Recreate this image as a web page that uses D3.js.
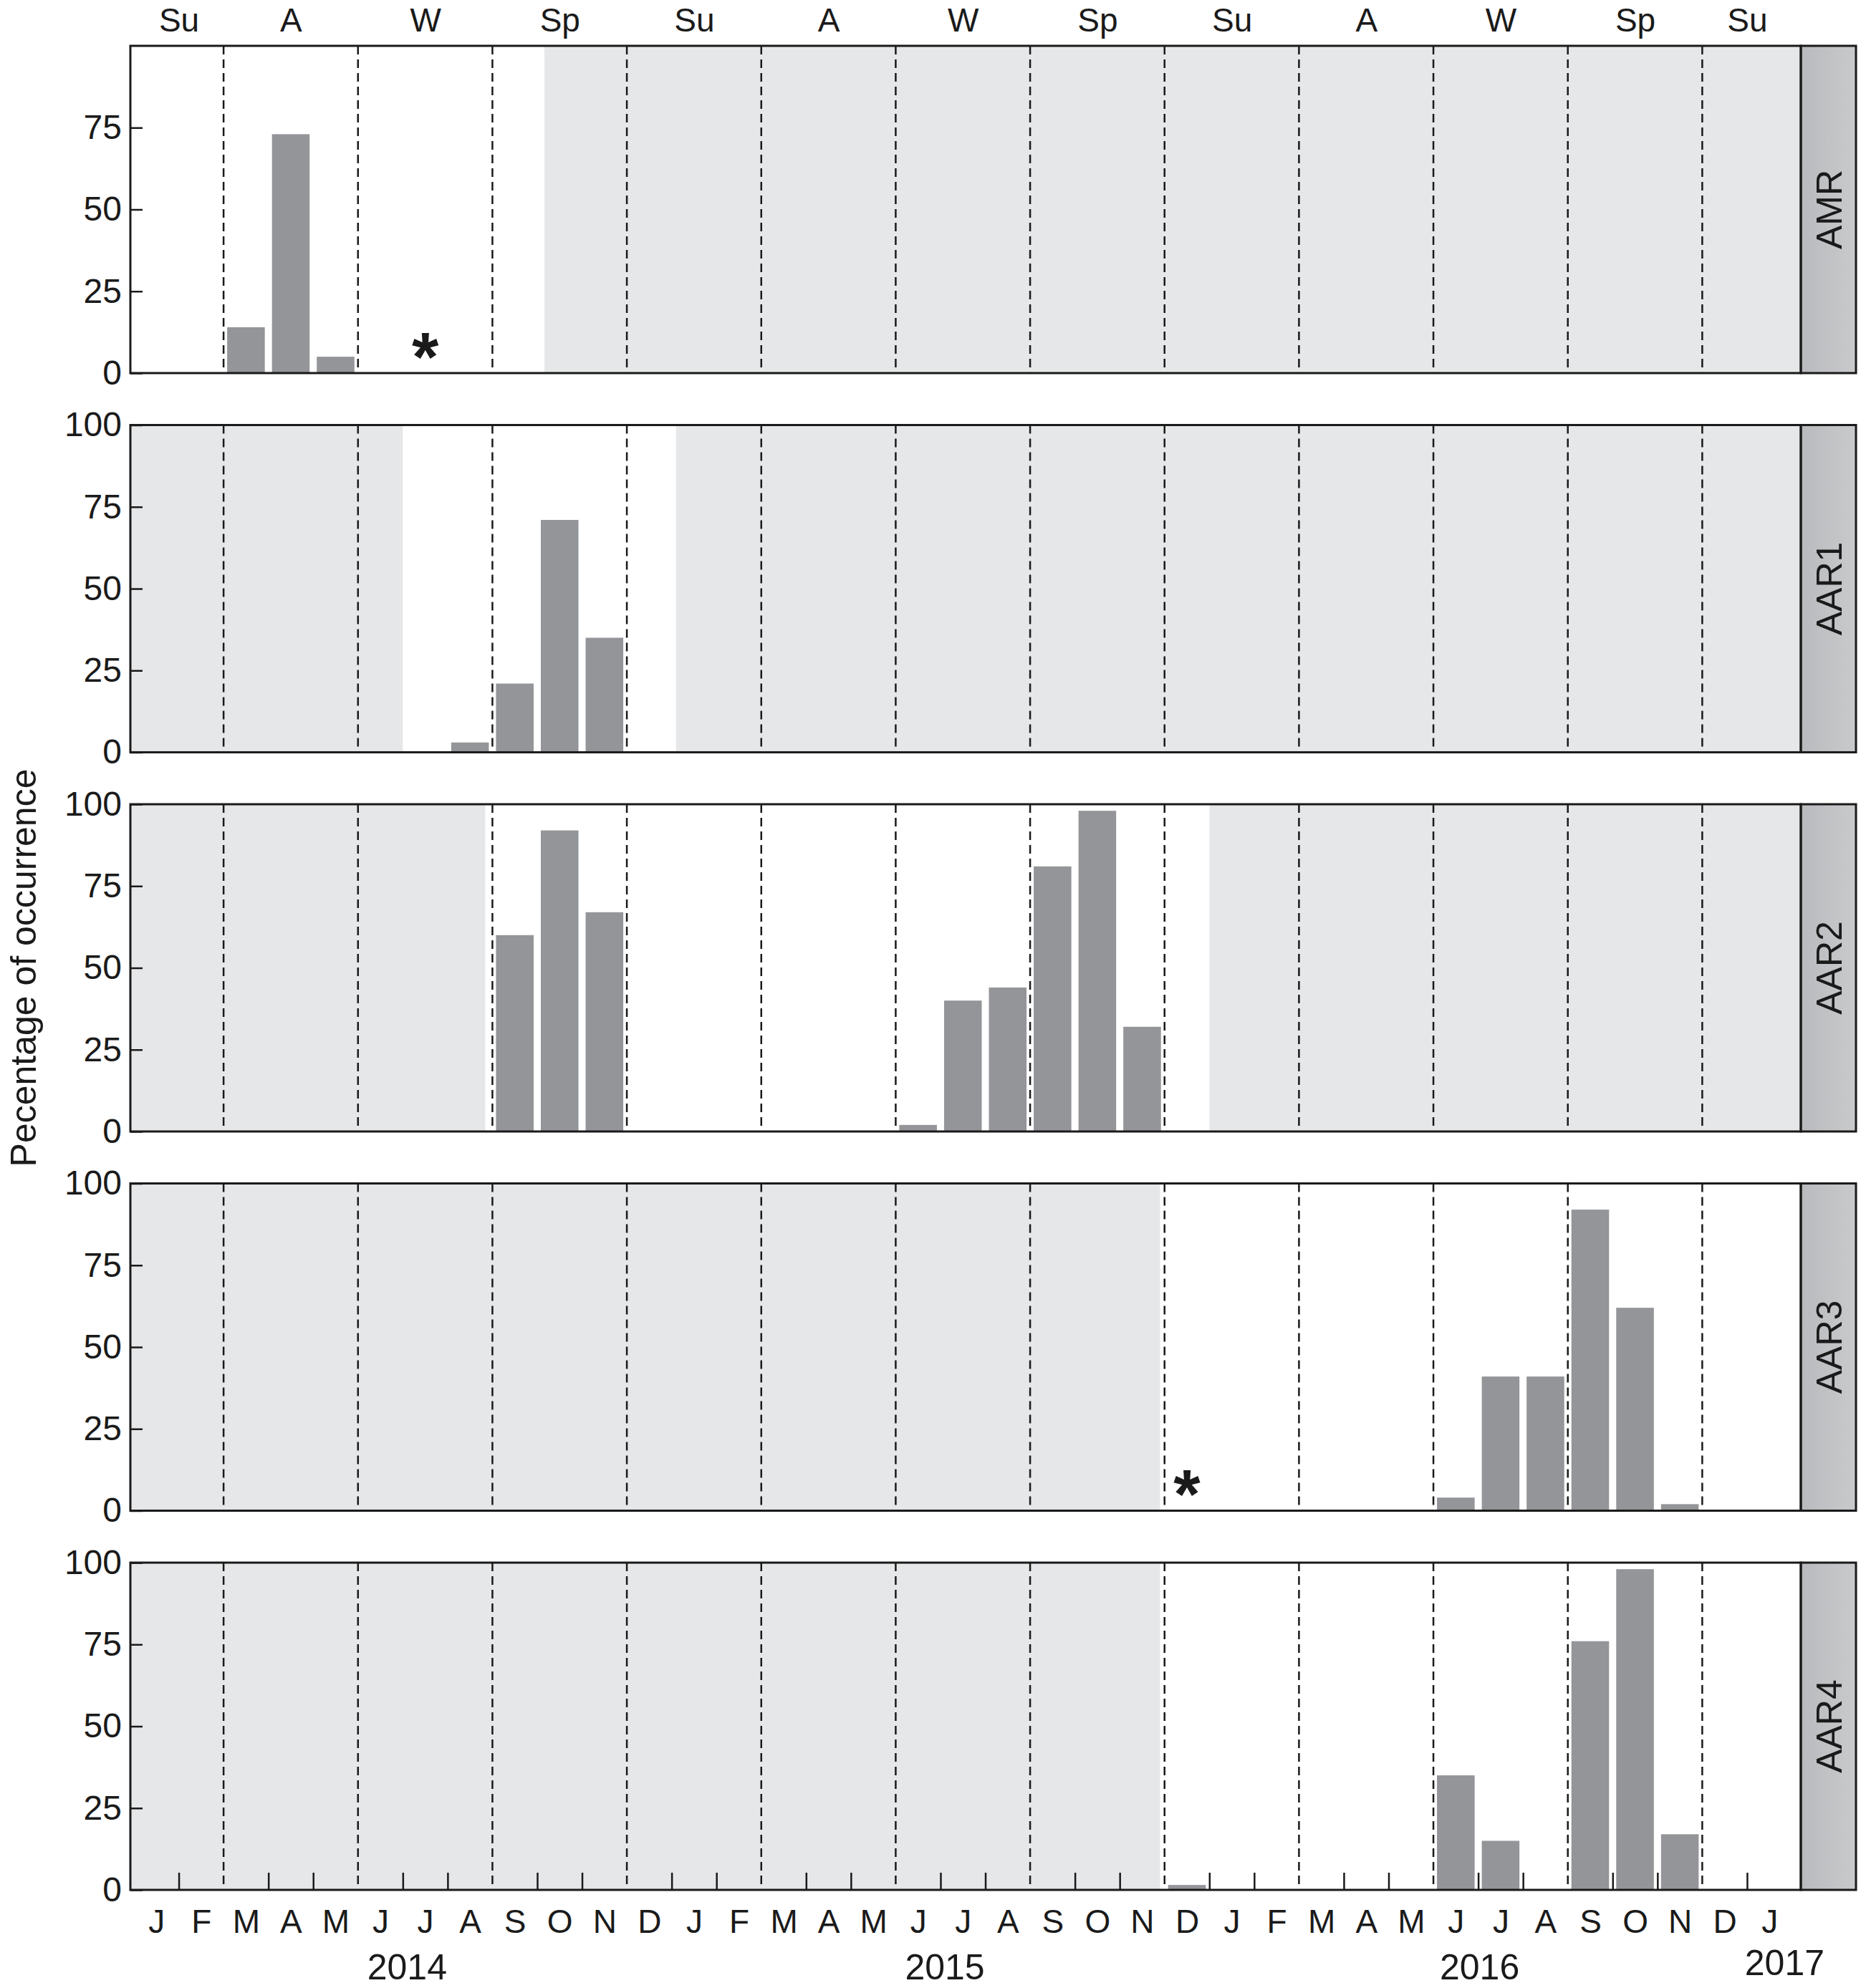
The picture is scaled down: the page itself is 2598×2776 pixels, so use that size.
<!DOCTYPE html>
<html>
<head>
<meta charset="utf-8">
<script src="https://cdn.jsdelivr.net/npm/d3@7"></script>
<style>
    body { margin: 0; background: #ffffff; }
    svg { display: block; }
    .axis path.domain { display: none; }
    .axis .tick line { stroke: #1a1a1a; stroke-width: 2.5px; }
    .seasonLine { stroke: #1a1a1a; stroke-width: 2.5px; stroke-dasharray: 12 7; }
    .frame { fill: none; stroke: #1a1a1a; stroke-width: 3px; }
</style>
</head>
<body>
<div id="chart"></div>
<script>

// ---- data ----
const stations = ["AMR", "AAR1", "AAR2", "AAR3", "AAR4"];

// monthly percentage of occurrence, one pair of arrays per station
const amrMonths  = ["2014-03", "2014-04", "2014-05"];
const amrPct     = [14, 73, 5];
const aar1Months = ["2014-08", "2014-09", "2014-10", "2014-11"];
const aar1Pct    = [3, 21, 71, 35];
const aar2Months = ["2014-09", "2014-10", "2014-11", "2015-06", "2015-07", "2015-08", "2015-09", "2015-10", "2015-11"];
const aar2Pct    = [60, 92, 67, 2, 40, 44, 81, 98, 32];
const aar3Months = ["2016-06", "2016-07", "2016-08", "2016-09", "2016-10", "2016-11"];
const aar3Pct    = [4, 41, 41, 92, 62, 2];
const aar4Months = ["2015-12", "2016-06", "2016-07", "2016-09", "2016-10", "2016-11"];
const aar4Pct    = [1.5, 35, 15, 76, 98, 17];

// recording periods (unshaded), one entry per station
const recordingStart = ["2013-12-28", "2014-07-01", "2014-08-27", "2015-11-28", "2015-11-28"];
const recordingEnd   = ["2014-10-06", "2015-01-04", "2016-01-01", "2017-02-08", "2017-02-08"];

// months marked with an asterisk
const markerStations = ["AMR", "AAR3"];
const markerMonths   = ["2014-07", "2015-12"];

// axis labels
const monthLetters = ["J", "F", "M", "A", "M", "J", "J", "A", "S", "O", "N", "D",
                      "J", "F", "M", "A", "M", "J", "J", "A", "S", "O", "N", "D",
                      "J", "F", "M", "A", "M", "J", "J", "A", "S", "O", "N", "D",
                      "J"];
const seasonLabels = ["Su", "A", "W", "Sp", "Su", "A", "W", "Sp", "Su", "A", "W", "Sp", "Su"];
const seasonStarts = ["2014-01", "2014-03", "2014-06", "2014-09", "2014-12", "2015-03", "2015-06",
                      "2015-09", "2015-12", "2016-03", "2016-06", "2016-09", "2016-12"];
const seasonEndLast = "2017-02";
const yearLabels = ["2014", "2015", "2016", "2017"];
const yearAt     = ["2014-07-04", "2015-07-04", "2016-07-02", "2017-01-27"];
const yTicks     = [0, 25, 50, 75, 100];
const yTitle     = "Pecentage of occurrence";

const FONT = '"Liberation Sans", Arial, Helvetica, sans-serif';
const INK = "#1a1a1a";

/**
 * Turns "YYYY-MM" or "YYYY-MM-DD" into a (fractional) month index, Jan 2014 = 0
 */
function monthIndex(s) {
    let p = s.split("-").map(Number);
    let idx = (p[0] - 2014) * 12 + p[1] - 1;
    if (p.length > 2) {
        let days = new Date(Date.UTC(p[0], p[1], 0)).getUTCDate();
        idx += (p[2] - 1) / days;
    }
    return idx;
}

/** Class drawing the stacked station panels. */
class OccurrenceChart {

    constructor() {
        this.width = 2598;
        this.height = 2776;
        this.left = 182;
        this.right = 2514;
        this.stripRight = 2591;
        this.top = 64;
        this.bottom = 2639;

        this.svg = d3.select("#chart").append("svg")
            .attr("width", this.width)
            .attr("height", this.height)
            .style("font-family", FONT);

        this.x = d3.scaleLinear()
            .domain([-0.08, 37.2])
            .range([this.left, this.right])
            .clamp(true);

        this.panel = d3.scaleBand()
            .domain(stations)
            .range([this.top, this.bottom])
            .paddingInner(0.137);

        let grad = this.svg.append("defs").append("linearGradient")
            .attr("id", "stripFill");
        grad.append("stop").attr("offset", "0%").attr("stop-color", "#b9babd");
        grad.append("stop").attr("offset", "100%").attr("stop-color", "#c9cacc");
    }

    /**
     * Builds the table for one station from the arrays above
     */
    rows(name) {
        let table = {
            "AMR":  [amrMonths, amrPct],
            "AAR1": [aar1Months, aar1Pct],
            "AAR2": [aar2Months, aar2Pct],
            "AAR3": [aar3Months, aar3Pct],
            "AAR4": [aar4Months, aar4Pct]
        }[name];
        return table[0].map((m, i) => ({month: monthIndex(m), pct: table[1][i]}));
    }

    drawPanel(name, i) {
        let x = this.x;
        let top = this.panel(name);
        let h = this.panel.bandwidth();
        let y = d3.scaleLinear().domain([0, 100]).range([top + h, top]);

        let g = this.svg.append("g").attr("class", "panel");

        // shaded = no recording
        g.append("rect")
            .attr("x", this.left).attr("y", top)
            .attr("width", this.right - this.left).attr("height", h)
            .attr("fill", "#e6e7e8");

        let x0 = x(monthIndex(recordingStart[i]));
        let x1 = x(monthIndex(recordingEnd[i]));
        g.append("rect")
            .attr("x", x0).attr("y", top)
            .attr("width", x1 - x0).attr("height", h)
            .attr("fill", "#ffffff");

        // bars
        g.selectAll("rect.bar").data(this.rows(name))
            .enter().append("rect")
            .attr("class", "bar")
            .attr("x", d => x(d.month + 0.08))
            .attr("width", d => x(d.month + 0.92) - x(d.month + 0.08))
            .attr("y", d => y(d.pct))
            .attr("height", d => y(0) - y(d.pct))
            .attr("fill", "#939598");

        // season boundaries
        g.selectAll("line.seasonLine").data(seasonStarts.slice(1))
            .enter().append("line")
            .attr("class", "seasonLine")
            .attr("x1", d => x(monthIndex(d))).attr("x2", d => x(monthIndex(d)))
            .attr("y1", top).attr("y2", top + h);

        // asterisks
        markerStations.forEach((s, k) => {
            if (s != name) return;
            g.append("text")
                .attr("x", x(monthIndex(markerMonths[k]) + 0.5))
                .attr("y", y(0) + 10)
                .attr("text-anchor", "middle")
                .attr("font-size", 96)
                .attr("font-weight", "bold")
                .attr("fill", INK)
                .text("*");
        });

        // y axis, the top panel has no 100 label
        let ticks = i == 0 ? yTicks.filter(t => t < 100) : yTicks;
        g.append("g")
            .attr("class", "axis")
            .attr("transform", "translate(" + this.left + ",0)")
            .call(d3.axisLeft(y).tickValues(ticks).tickSize(-17).tickPadding(12))
            .attr("font-family", FONT)
            .attr("font-size", 48)
            .attr("color", INK);

        // frame and strip
        g.append("rect")
            .attr("x", this.right).attr("y", top)
            .attr("width", this.stripRight - this.right).attr("height", h)
            .attr("fill", "url(#stripFill)");
        g.append("rect")
            .attr("class", "frame")
            .attr("x", this.left).attr("y", top)
            .attr("width", this.right - this.left).attr("height", h);
        g.append("rect")
            .attr("class", "frame")
            .attr("x", this.right).attr("y", top)
            .attr("width", this.stripRight - this.right).attr("height", h);

        let sx = (this.right + this.stripRight) / 2 + 18;
        let sy = top + h / 2;
        g.append("text")
            .attr("transform", "translate(" + sx + "," + sy + ") rotate(-90)")
            .attr("text-anchor", "middle")
            .attr("font-size", 50)
            .attr("fill", INK)
            .text(name);
    }

    update() {
        let _this = this;
        let x = this.x;

        stations.forEach((s, i) => _this.drawPanel(s, i));

        // small month ticks inside the bottom panel
        let bounds = d3.range(1, 37).filter(m => seasonStarts.map(monthIndex).indexOf(m) < 0);
        this.svg.append("g")
            .attr("class", "axis")
            .attr("transform", "translate(0," + this.bottom + ")")
            .call(d3.axisBottom(x).tickValues(bounds).tickSize(-24).tickFormat(""));

        // month letters
        this.svg.append("g")
            .attr("class", "axis")
            .attr("transform", "translate(0," + this.bottom + ")")
            .call(d3.axisBottom(x)
                .tickValues(monthLetters.map((d, i) => i + 0.5))
                .tickSize(0).tickPadding(27)
                .tickFormat((d, i) => monthLetters[i]))
            .attr("font-family", FONT)
            .attr("font-size", 46)
            .attr("color", INK);

        // season letters along the top
        let starts = seasonStarts.map(monthIndex);
        let ends = starts.slice(1).concat([monthIndex(seasonEndLast)]);
        this.svg.append("g")
            .attr("class", "axis")
            .attr("transform", "translate(0," + this.top + ")")
            .call(d3.axisTop(x)
                .tickValues(starts.map((s, i) => (s + ends[i]) / 2))
                .tickSize(0).tickPadding(20)
                .tickFormat((d, i) => seasonLabels[i]))
            .attr("font-family", FONT)
            .attr("font-size", 46)
            .attr("color", INK);

        // years
        this.svg.selectAll("text.year").data(yearLabels)
            .enter().append("text")
            .attr("class", "year")
            .attr("x", (d, i) => x(monthIndex(yearAt[i])))
            .attr("y", (d, i) => i == yearLabels.length - 1 ? 2758 : 2764)
            .attr("text-anchor", "middle")
            .attr("font-size", 50)
            .attr("fill", INK)
            .text(d => d);

        // y title
        this.svg.append("text")
            .attr("transform", "translate(50," + (this.top + this.bottom) / 2 + ") rotate(-90)")
            .attr("text-anchor", "middle")
            .attr("font-size", 50)
            .attr("fill", INK)
            .text(yTitle);
    }
}

let chart = new OccurrenceChart();
chart.update();

</script>
</body>
</html>
